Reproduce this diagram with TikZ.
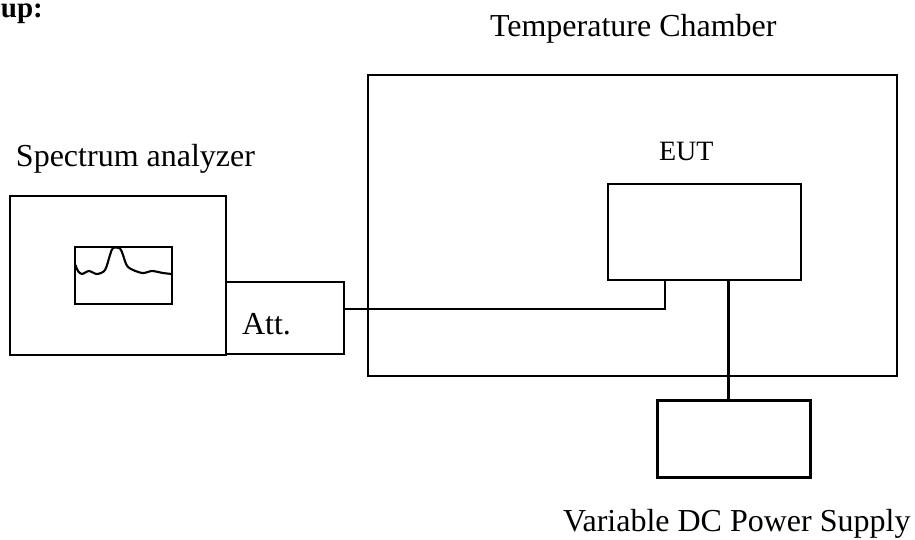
\documentclass[tikz,border=0pt]{standalone}
\usepackage{fontspec}
\setmainfont{Liberation Serif}
\tikzset{
  box/.style={draw=black,line width=2.1pt,fill=none,inner sep=0pt,outer sep=0pt},
  thick box/.style={box,line width=3pt},
  label text/.style={inner sep=0pt,outer sep=0pt,anchor=base west,font=\fontsize{32}{32}\selectfont,text=black},
  wire/.style={draw=black,line width=2.1pt},
  power wire/.style={draw=black,line width=3pt},
}
\begin{document}
\begin{tikzpicture}[x=1pt,y=-1pt]
\useasboundingbox (0,0) rectangle (915,539);
\node[box,minimum width=216pt,minimum height=159pt] (sa) at (118,275.5) {};
\node[box,minimum width=97pt,minimum height=57pt] (screen) at (123.5,275.5) {};
\node[box,minimum width=118pt,minimum height=72pt] (att) at (285,318) {};
\node[box,minimum width=529pt,minimum height=301pt] (chamber) at (632.5,225.5) {};
\node[box,minimum width=193pt,minimum height=96pt] (eut) at (704.5,232) {};
\node[thick box,minimum width=153pt,minimum height=77pt] (ps) at (733.5,438.5) {};
\coordinate (w) at (665,309);
\coordinate (p) at (728,340);
\draw[wire] (w -| att.east) -- (w) -- (w |- eut.south);
\draw[power wire] (p |- eut.south) -- (p |- ps.north);
\draw[line width=2.1pt,line join=round] plot[smooth,tension=0.5] coordinates {(75.5,265) (78,271) (82,274) (89,271) (97,274) (105,270) (110,255) (113,248) (120,248.5) (123,255) (128,267) (142,273) (152,271) (163,273) (172,274)};
\node[label text,font=\fontsize{29}{29}\selectfont\bfseries] (setup) at (1,17) {up:};
\node[label text] (tc) at (490,36) {Temperature Chamber};
\node[label text] (sal) at (16,166) {Spectrum analyzer};
\node[label text,font=\fontsize{28}{28}\selectfont] (eutl) at (659,160) {EUT};
\node[label text] (attl) at (242,334) {Att.};
\node[label text] (psl) at (563,531) {Variable DC Power Supply};
\end{tikzpicture}
\end{document}
